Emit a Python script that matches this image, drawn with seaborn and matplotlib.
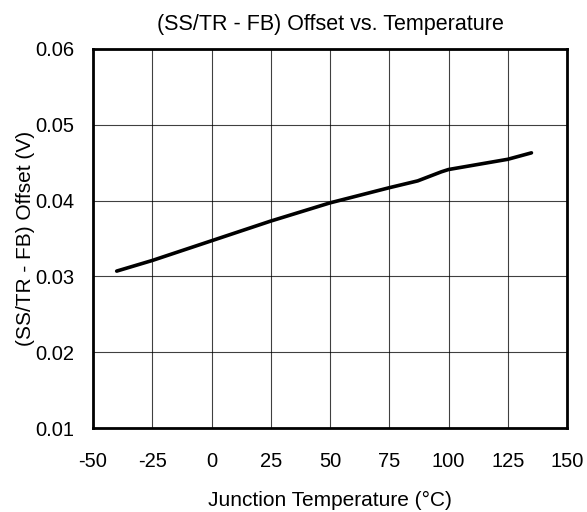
import matplotlib
matplotlib.use("Agg")
import matplotlib.pyplot as plt
import seaborn as sns
import pandas as pd

# values
temps = [-40, -25, 0, 25, 50, 75, 87, 97, 100, 125, 135]
offset = [0.0307, 0.0321, 0.0347, 0.0373, 0.0397, 0.0417, 0.0426, 0.0438, 0.0441, 0.04545, 0.0463]
x_ticks = [-50, -25, 0, 25, 50, 75, 100, 125, 150]
y_ticks = [0.01, 0.02, 0.03, 0.04, 0.05, 0.06]

df = pd.DataFrame({"temp": temps, "offset": offset})

sns.set_style("white")
plt.rcParams["font.family"] = ["Liberation Sans", "DejaVu Sans"]
plt.rcParams["text.color"] = "black"

W, H = 587, 512
fig = plt.figure(figsize=(W / 100, H / 100), dpi=100)
ax = fig.add_axes([93 / W, 1 - 428 / H, 474 / W, 379 / H])

sns.lineplot(data=df, x="temp", y="offset", ax=ax, color="black", linewidth=2.6)

ax.set_xlim(-50, 150)
ax.set_ylim(0.01, 0.06)
ax.set_xticks(x_ticks)
ax.set_yticks(y_ticks)
ax.set_xticklabels([str(t) for t in x_ticks])
ax.set_yticklabels([f"{t:.2f}" for t in y_ticks])
ax.tick_params(axis="both", length=0, labelsize=14.5, colors="black")
ax.tick_params(axis="x", pad=17.5)
ax.tick_params(axis="y", pad=13.5)
ax.grid(True, color="black", linewidth=0.8, alpha=0.75)

for s in ax.spines.values():
    s.set_visible(True)
    s.set_color("black")
    s.set_linewidth(2)

ax.set_xlabel("")
ax.set_ylabel("")

# title and axis titles placed by pixel, centred on the plot area
cx = 330 / W
fig.text(cx, 1 - 30 / H, "(SS/TR - FB) Offset vs. Temperature", fontsize=15.5,
         ha="center", va="baseline", color="black")
fig.text(cx, 1 - 506.5 / H, "Junction Temperature (°C)", fontsize=15,
         ha="center", va="baseline", color="black")
fig.text(31.5 / W, 1 - 238.5 / H, "(SS/TR - FB) Offset (V)", fontsize=15,
         ha="center", va="baseline", rotation=90, rotation_mode="anchor",
         color="black")

fig.savefig("out.png", dpi=100)
plt.close(fig)
